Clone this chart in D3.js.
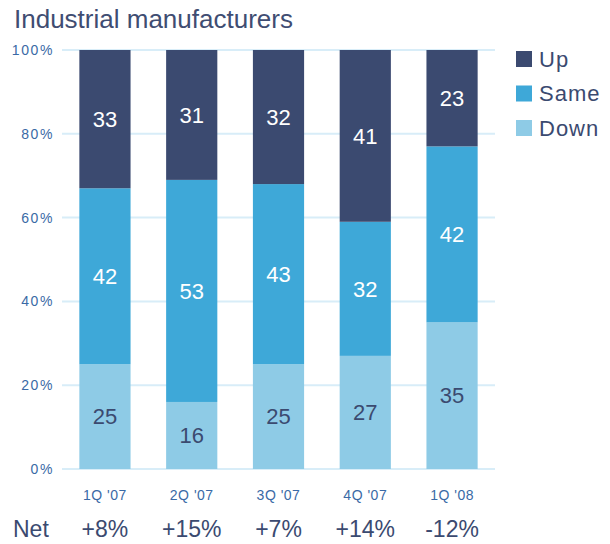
<!DOCTYPE html>
<html>
<head>
<meta charset="utf-8">
<script src="https://cdn.jsdelivr.net/npm/d3@7"></script>
<style>
  html, body { margin: 0; padding: 0; background: #fff; }
  svg { display: block; font-family: "Liberation Sans", Arial, sans-serif; }
</style>
</head>
<body>
<div id="chart"></div>
<script>
// Survey responses for industrial manufacturers, share of respondents (%)
const quarters = ["1Q '07", "2Q '07", "3Q '07", "4Q '07", "1Q '08"];
const downVals = [25, 16, 25, 27, 35];
const sameVals = [42, 53, 43, 32, 42];
const upVals   = [33, 31, 32, 41, 23];
const netLabels = ["+8%", "+15%", "+7%", "+14%", "-12%"];
const yTicks = [0, 20, 40, 60, 80, 100];
const seriesNames = ["Up", "Same", "Down"];

const W = 610, H = 544;
const margin = { left: 62, right: 115, top: 50, bottom: 75 };

const colors = { Up: "#3b4a70", Same: "#3ea8d8", Down: "#8ecbe6" };
const labelColors = { Up: "#ffffff", Same: "#ffffff", Down: "#3b4a70" };

const svg = d3.select("#chart").append("svg")
  .attr("width", W).attr("height", H);

const x = d3.scaleBand()
  .domain(quarters)
  .range([margin.left, W - margin.right])
  .paddingInner(0.41)
  .paddingOuter(0.2);

const y = d3.scaleLinear()
  .domain([0, 100])
  .range([H - margin.bottom, margin.top]);

// Title
svg.append("text")
  .attr("x", 14).attr("y", 28)
  .attr("fill", "#3f4d72")
  .attr("font-size", 26)
  .text("Industrial manufacturers");

// Gridlines
svg.append("g").selectAll("line")
  .data(yTicks)
  .join("line")
  .attr("x1", margin.left).attr("x2", W - margin.right)
  .attr("y1", d => y(d)).attr("y2", d => y(d))
  .attr("stroke", "#d8edf8")
  .attr("stroke-width", 2);

// Y axis labels
const yAxis = d3.axisLeft(y).tickValues(yTicks).tickFormat(d => d + "%").tickSize(0).tickPadding(8);
const gy = svg.append("g").attr("transform", `translate(${margin.left},0)`).call(yAxis);
gy.select(".domain").remove();
gy.selectAll("text")
  .attr("fill", "#3a6aa6")
  .attr("font-size", 14)
  .attr("letter-spacing", "1.6px")
  .attr("font-family", "Liberation Sans, Arial, sans-serif");

// Stack data
const rows = quarters.map((q, i) => ({ q, Down: downVals[i], Same: sameVals[i], Up: upVals[i] }));
const stack = d3.stack().keys(["Down", "Same", "Up"]);
const layers = stack(rows);

const layerG = svg.append("g").selectAll("g")
  .data(layers)
  .join("g")
  .attr("fill", d => colors[d.key]);

layerG.selectAll("rect")
  .data(d => d)
  .join("rect")
  .attr("x", d => x(d.data.q))
  .attr("width", x.bandwidth())
  .attr("y", d => y(d[1]))
  .attr("height", d => y(d[0]) - y(d[1]));

// Segment value labels
layers.forEach(layer => {
  svg.append("g").selectAll("text")
    .data(layer)
    .join("text")
    .attr("x", d => x(d.data.q) + x.bandwidth() / 2)
    .attr("y", d => (y(d[0]) + y(d[1])) / 2)
    .attr("dy", "0.35em")
    .attr("text-anchor", "middle")
    .attr("font-size", 22)
    .attr("fill", labelColors[layer.key])
    .text(d => d.data[layer.key]);
});

// X axis labels
const xAxis = d3.axisBottom(x).tickSize(0).tickPadding(0);
const gx = svg.append("g").attr("transform", `translate(0,${H - margin.bottom + 31})`).call(xAxis);
gx.select(".domain").remove();
gx.selectAll("text")
  .attr("dy", 0)
  .attr("fill", "#3a6aa6")
  .attr("font-size", 14)
  .attr("letter-spacing", "0.5px")
  .attr("font-family", "Liberation Sans, Arial, sans-serif");

// Net balance row
svg.append("text")
  .attr("x", 13).attr("y", 537)
  .attr("fill", "#3b4a70")
  .attr("font-size", 23)
  .text("Net");

svg.append("g").selectAll("text")
  .data(quarters)
  .join("text")
  .attr("x", d => x(d) + x.bandwidth() / 2)
  .attr("y", 537)
  .attr("text-anchor", "middle")
  .attr("fill", "#3b4a70")
  .attr("font-size", 23)
  .text((d, i) => netLabels[i]);

// Legend
const legend = svg.append("g").selectAll("g")
  .data(seriesNames)
  .join("g")
  .attr("transform", (d, i) => `translate(516,${51 + i * 34.5})`);

legend.append("rect")
  .attr("width", 16).attr("height", 16)
  .attr("fill", d => colors[d]);

legend.append("text")
  .attr("x", 23).attr("y", 8)
  .attr("dy", "0.36em")
  .attr("fill", "#3b4a70")
  .attr("font-size", 22)
  .attr("letter-spacing", "1px")
  .text(d => d);
</script>
</body>
</html>
